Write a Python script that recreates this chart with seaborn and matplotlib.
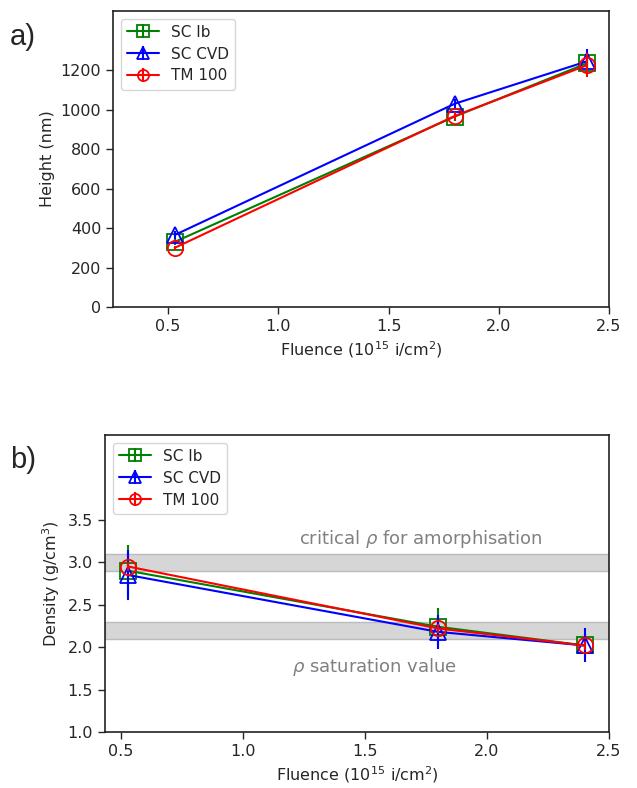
import numpy as np
import pandas as pd
import matplotlib
matplotlib.use("Agg")
import matplotlib.pyplot as plt
from matplotlib.lines import Line2D
from matplotlib.legend_handler import HandlerTuple
import seaborn as sns

# Fluence values (10^15 i/cm^2)
fluence = [0.53, 1.8, 2.4]
samples = ["SC Ib", "SC CVD", "TM 100"]

# a) pillar height (nm)
height_sc_ib = [330, 965, 1235]
height_sc_cvd = [365, 1030, 1245]
height_tm100 = [300, 968, 1225]
height_err_sc_ib = [15, 20, 40]
height_err_sc_cvd = [20, 25, 60]
height_err_tm100 = [10, 20, 60]

# b) density (g/cm^3)
density_sc_ib = [2.90, 2.24, 2.02]
density_sc_cvd = [2.85, 2.18, 2.02]
density_tm100 = [2.95, 2.22, 2.02]
density_err_sc_ib = [0.30, 0.22, 0.15]
density_err_sc_cvd = [0.30, 0.20, 0.20]
density_err_tm100 = [0.05, 0.05, 0.05]

colors = {"SC Ib": "green", "SC CVD": "blue", "TM 100": "red"}
markers = {"SC Ib": "s", "SC CVD": "^", "TM 100": "o"}

sns.set_style("ticks")
plt.rcParams.update({
    "font.family": ["DejaVu Sans"],
    "axes.edgecolor": "#222222",
    "axes.linewidth": 1.2,
    "xtick.major.size": 5,
    "ytick.major.size": 5,
    "xtick.major.width": 1.0,
    "ytick.major.width": 1.0,
    "xtick.labelsize": 11.5,
    "ytick.labelsize": 11.5,
    "axes.labelsize": 11.5,
})

fig = plt.figure(figsize=(6.37, 7.88), dpi=100)
W, H = 637, 788
ax_a = fig.add_axes([113 / W, 1 - 307 / H, 496 / W, 296 / H])
ax_b = fig.add_axes([105 / W, 1 - 732 / H, 504 / W, 297 / H])


def draw_panel(ax, series, errors):
    handles = []
    for name, vals, err in zip(samples, series, errors):
        c = colors[name]
        m = markers[name]
        df = pd.DataFrame({"Fluence": fluence, "value": vals})
        sns.lineplot(data=df, x="Fluence", y="value", ax=ax, color=c,
                     marker=m, markersize=11, markerfacecolor="none",
                     markeredgecolor=c, markeredgewidth=1.3, linewidth=1.5,
                     errorbar=None, legend=False, zorder=3)
        ax.errorbar(fluence, vals, yerr=err, fmt="none", ecolor=c,
                    elinewidth=1.5, capsize=0, zorder=3)
        handles.append((
            Line2D([], [], color=c, marker=m, markersize=8,
                   markerfacecolor="none", markeredgecolor=c,
                   markeredgewidth=1.3, linewidth=1.5),
            Line2D([], [], color=c, marker="|", markersize=10,
                   markeredgewidth=1.5, linestyle="none"),
        ))
    ax.legend(handles, samples, loc="upper left", fontsize=11,
              handler_map={tuple: HandlerTuple(ndivide=1)},
              handlelength=2.1, borderpad=0.4, labelspacing=0.45,
              frameon=True, framealpha=0.8, edgecolor="#cccccc",
              fancybox=True)
    for s in ax.spines.values():
        s.set_visible(True)


draw_panel(ax_a, [height_sc_ib, height_sc_cvd, height_tm100],
           [height_err_sc_ib, height_err_sc_cvd, height_err_tm100])
ax_a.set_xlim(0.25, 2.5)
ax_a.set_ylim(0, 1500)
ax_a.set_yticks(np.arange(0, 1201, 200))
ax_a.set_xticks([0.5, 1.0, 1.5, 2.0, 2.5])
ax_a.set_xlabel(r"Fluence (10$^{15}$ i/cm$^{2}$)")
ax_a.set_ylabel("Height (nm)")

# Reference density bands
ax_b.axhspan(2.9, 3.1, facecolor="#d6d6d6", edgecolor="#bbbbbb",
             linewidth=1.0, zorder=0)
ax_b.axhspan(2.1, 2.3, facecolor="#d6d6d6", edgecolor="#bbbbbb",
             linewidth=1.0, zorder=0)
ax_b.text(1.73, 3.28, r"critical $\rho$ for amorphisation", color="#808080",
          fontsize=13, ha="center", va="center")
ax_b.text(1.54, 1.77, r"$\rho$ saturation value", color="#808080",
          fontsize=13, ha="center", va="center")

draw_panel(ax_b, [density_sc_ib, density_sc_cvd, density_tm100],
           [density_err_sc_ib, density_err_sc_cvd, density_err_tm100])
ax_b.set_xlim(0.435, 2.5)
ax_b.set_ylim(1.0, 4.5)
ax_b.set_yticks([1.0, 1.5, 2.0, 2.5, 3.0, 3.5])
ax_b.set_xticks([0.5, 1.0, 1.5, 2.0, 2.5])
ax_b.set_xlabel(r"Fluence (10$^{15}$ i/cm$^{2}$)")
ax_b.set_ylabel(r"Density (g/cm$^{3}$)")

fig.text(10 / W, 1 - 45 / H, "a)", fontsize=21, family="Liberation Sans")
fig.text(10 / W, 1 - 468 / H, "b)", fontsize=21, family="Liberation Sans")

fig.savefig("out.png", dpi=100)
